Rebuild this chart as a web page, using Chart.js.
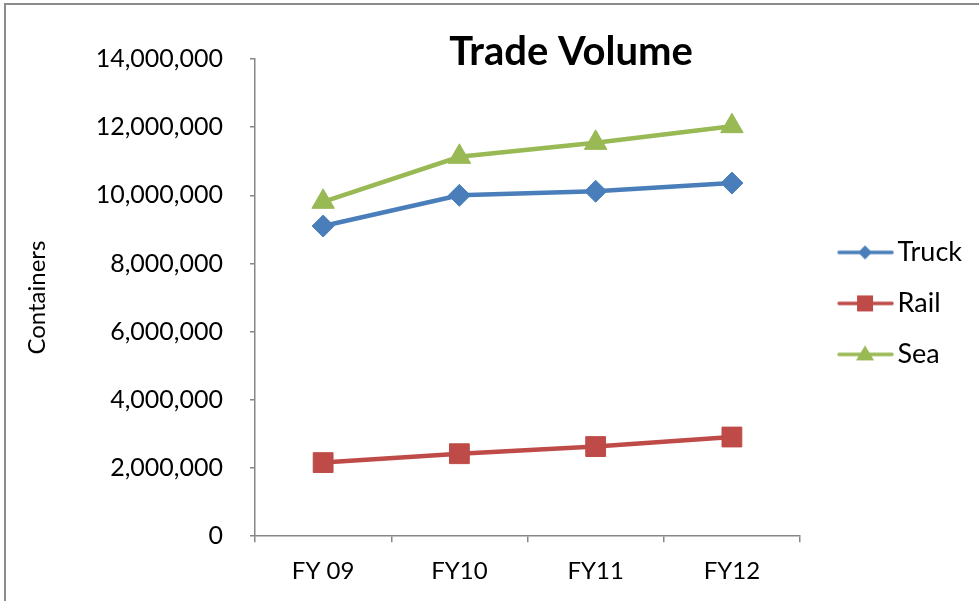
<!DOCTYPE html>
<html>
<head>
<meta charset="utf-8">
<title>Trade Volume</title>
<script src="https://cdn.jsdelivr.net/npm/chart.js@4/dist/chart.umd.min.js"></script>
<style>
  html, body { margin: 0; padding: 0; background: #fff; }
  #wrap { position: relative; width: 979px; height: 601px; overflow: hidden; }
  #frame {
    position: absolute; left: 4px; top: 3px; width: 990px; height: 620px;
    border-left: 2px solid #8c8c8c; border-top: 2px solid #8c8c8c;
  }
  #chart { position: absolute; left: 0; top: 0; }
</style>
</head>
<body>
<div id="wrap">
  <div id="frame"></div>
  <canvas id="chart" width="979" height="601"></canvas>
</div>
<script>
// 年度別の輸送量（コンテナ数）
const TITLE = 'Trade Volume';
const Y_TITLE = 'Containers';
const years = ['FY 09', 'FY10', 'FY11', 'FY12'];
const truck = [9100000, 10000000, 10120000, 10360000];
const rail  = [2160000, 2420000, 2630000, 2910000];
const sea   = [9810000, 11130000, 11540000, 12030000];

const FONT = 'Lato';
const AXIS_COLOR = '#868686';

/** 凡例用アイコン（線＋マーカー）を小さな canvas に描く */
function legendIcon(color, shape) {
  const c = document.createElement('canvas');
  c.width = 60;
  c.height = 20;
  const g = c.getContext('2d');
  const cx = 31, cy = 10;
  g.strokeStyle = color;
  g.fillStyle = color;
  g.lineWidth = 3.5;
  g.lineCap = 'round';
  g.beginPath();
  g.moveTo(5, cy);
  g.lineTo(58, cy);
  g.stroke();
  g.beginPath();
  if (shape === 'rectRot') {
    g.moveTo(cx, cy - 7); g.lineTo(cx + 7, cy); g.lineTo(cx, cy + 7); g.lineTo(cx - 7, cy);
  } else if (shape === 'rect') {
    g.rect(cx - 8, cy - 8, 16, 16);
  } else {
    g.moveTo(cx, cy - 9); g.lineTo(cx + 9, cy + 6); g.lineTo(cx - 9, cy + 6);
  }
  g.closePath();
  g.fill();
  return c;
}

/** グラフタイトル（プロット領域の上に重ねて描く） */
const titlePlugin = {
  id: 'plotTitle',
  afterDraw(chart) {
    const { ctx, chartArea } = chart;
    ctx.save();
    ctx.font = `bold 40px ${FONT}`;
    ctx.fillStyle = '#000';
    ctx.textAlign = 'center';
    ctx.textBaseline = 'alphabetic';
    ctx.fillText(TITLE, chartArea.left + chartArea.width * 0.58, chartArea.top + 6);
    ctx.restore();
  }
};

const series = [
  { label: 'Truck', data: truck, color: '#4a7ebb', shape: 'rectRot', radius: 11 },
  { label: 'Rail',  data: rail,  color: '#be4b48', shape: 'rect',    radius: 14 },
  { label: 'Sea',   data: sea,   color: '#98b954', shape: 'triangle', radius: 13 }
];

new Chart(document.getElementById('chart'), {
  type: 'line',
  data: {
    labels: years,
    datasets: series.map(s => ({
      label: s.label,
      data: s.data,
      borderColor: s.color,
      backgroundColor: s.color,
      borderWidth: 4.5,
      tension: 0,
      pointStyle: s.shape,
      pointRadius: s.radius,
      pointHoverRadius: s.radius,
      pointBackgroundColor: s.color,
      pointBorderColor: s.color,
      pointBorderWidth: 1,
      icon: legendIcon(s.color, s.shape)
    }))
  },
  options: {
    responsive: false,
    animation: false,
    layout: { padding: { top: 59, left: 10, right: 7, bottom: 0 } },
    plugins: {
      tooltip: { enabled: false },
      title: { display: false },
      legend: {
        position: 'right',
        fullSize: false,
        // 空のタイトルで項目ブロックを少し下げる
        title: { display: true, text: ' ', color: '#000', font: { size: 8 }, padding: 1 },
        labels: {
          usePointStyle: true,
          pointStyleWidth: 40,
          padding: 24,
          color: '#000',
          font: { family: FONT, size: 27 },
          generateLabels: chart => chart.data.datasets.map((ds, i) => ({
            text: ds.label,
            fontColor: '#000',
            pointStyle: ds.icon,
            fillStyle: ds.borderColor,
            strokeStyle: ds.borderColor,
            lineWidth: 0,
            hidden: !chart.isDatasetVisible(i),
            datasetIndex: i
          }))
        }
      }
    },
    scales: {
      x: {
        offset: true,
        grid: {
          offset: true,
          drawOnChartArea: false,
          drawTicks: true,
          tickLength: 6,
          color: AXIS_COLOR,
          lineWidth: 1.5
        },
        border: { color: AXIS_COLOR, width: 1.5 },
        ticks: { color: '#000', padding: 15, font: { family: FONT, size: 24 } }
      },
      y: {
        min: 0,
        max: 14000000,
        afterFit(scale) { scale.width = 245; },
        grid: {
          drawOnChartArea: false,
          tickLength: 5,
          color: AXIS_COLOR,
          lineWidth: 1.5
        },
        border: { color: AXIS_COLOR, width: 1.5 },
        ticks: {
          stepSize: 2000000,
          color: '#000',
          padding: 27,
          font: { family: FONT, size: 25 },
          callback: v => v.toLocaleString('en-US')
        },
        title: {
          display: true,
          text: Y_TITLE,
          color: '#000',
          font: { family: FONT, size: 24 },
          padding: { top: 13, bottom: 10 }
        }
      },
      gap: {
        position: 'right',
        display: true,
        grid: { display: false },
        border: { display: false },
        ticks: { display: false },
        afterFit(scale) { scale.width = 20; }
      }
    }
  },
  plugins: [titlePlugin]
});
</script>
</body>
</html>
